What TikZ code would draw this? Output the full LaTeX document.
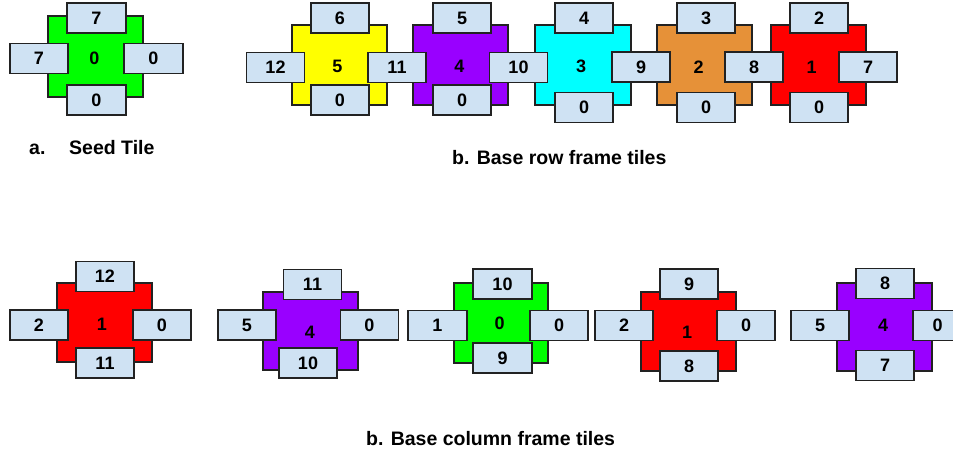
\documentclass[tikz,border=0pt]{standalone}
\usepackage{fontspec}
\setmainfont{Liberation Sans}
\definecolor{linec}{HTML}{222222}
\definecolor{portc}{HTML}{CFE2F3}
\definecolor{tgreen}{HTML}{00FF00}
\definecolor{tyellow}{HTML}{FFFF00}
\definecolor{tpurple}{HTML}{9900FF}
\definecolor{tcyan}{HTML}{00FFFF}
\definecolor{torange}{HTML}{E69138}
\definecolor{tred}{HTML}{FF0000}
\tikzset{
  sq/.style={draw=linec, line width=1.6pt, inner sep=0pt},
  port/.style={draw=linec, line width=1.6pt, fill=portc, minimum width=58pt, minimum height=30pt, inner sep=0pt, font=\bfseries\fontsize{18}{18}\selectfont},
  num/.style={inner sep=0pt, font=\bfseries\fontsize{18}{18}\selectfont},
  caption/.style={inner sep=0pt, anchor=base west, font=\bfseries\fontsize{19.5}{19.5}\selectfont}
}
\begin{document}
\begin{tikzpicture}[x=1pt, y=-1pt]
\useasboundingbox (0,0) rectangle (953,452);
\clip (0,0) rectangle (953,452);
\fill[white] (0,0) rectangle (953,452);

% ---------- seed tile ----------
\node[sq, fill=tgreen, minimum width=95pt, minimum height=81pt] (s0) at (95.5,56.5) {};
\node[num] (s0c) at (94.5,58.5) {0};
\node[port, minimum width=59pt] (s0t) at (96.5,18) {7};
\node[port] (s0l) at (39,58.5) {7};
\node[port, minimum width=59pt] (s0r) at (153.5,58.5) {0};
\node[port, minimum width=59pt] (s0b) at (96.5,100) {0};

\node[caption] (capa1) at (29,154) {a.};
\node[caption] (capa2) at (69,154) {Seed Tile};

% ---------- base row ----------
\node[sq, fill=tyellow, minimum width=95pt, minimum height=80pt] (r5) at (339.5,65) {};
\node[sq, fill=tpurple, minimum width=95pt, minimum height=80pt] (r4) at (460.5,65) {};
\node[sq, fill=tcyan, minimum width=96pt, minimum height=80pt] (r3) at (583,65) {};
\node[sq, fill=torange, minimum width=95pt, minimum height=80pt] (r2) at (704.5,65) {};
\node[sq, fill=tred, minimum width=95pt, minimum height=80pt] (r1) at (818.5,65) {};

\node[num] (r5c) at (337.5,66.5) {5};
\node[num] (r4c) at (459.5,66.5) {4};
\node[num] (r3c) at (581,66.5) {3};
\node[num] (r2c) at (698.5,67.5) {2};
\node[num] (r1c) at (811.5,67) {1};

\node[port] (r5t) at (340,18) {6};
\node[port] (r5l) at (275.5,67.5) {12};
\node[port] (r5b) at (340,100) {0};
\node[port] (r54) at (397,67.5) {11};

\node[port] (r4t) at (462,18) {5};
\node[port] (r4b) at (462,100) {0};
\node[port] (r43) at (518.5,67.5) {10};

\node[port] (r3t) at (584,18) {4};
\node[port] (r3b) at (584,107.5) {0};
\node[port] (r32) at (641,67) {9};

\node[port] (r2t) at (706,18) {3};
\node[port] (r2b) at (706,107.5) {0};
\node[port] (r21) at (754,67) {8};

\node[port] (r1t) at (819,18) {2};
\node[port] (r1b) at (819,107.5) {0};
\node[port] (r1r) at (868,67) {7};

\node[caption] (capb) at (452,164) {b. Base row frame tiles};

% ---------- base column ----------
\node[sq, fill=tred, minimum width=95pt, minimum height=79pt] (cA) at (104.5,322.5) {};
\node[sq, fill=tpurple, minimum width=95pt, minimum height=78pt] (cB) at (310.5,331) {};
\node[sq, fill=tgreen, minimum width=94pt, minimum height=80pt] (cC) at (501,323) {};
\node[sq, fill=tred, minimum width=95pt, minimum height=79pt] (cD) at (688.5,331.5) {};
\node[sq, fill=tpurple, minimum width=95pt, minimum height=88pt] (cE) at (884.5,327) {};

\node[num] (cAc) at (102,324.5) {1};
\node[num] (cBc) at (310,332.5) {4};
\node[num] (cCc) at (499.5,323.5) {0};
\node[num] (cDc) at (687,332) {1};
\node[num] (cEc) at (883,325) {4};

\node[port] (cAt) at (105,276.5) {12};
\node[port] (cAl) at (39,325) {2};
\node[port] (cAr) at (162,325) {0};
\node[port] (cAb) at (105,363) {11};

\node[port] (cBt) at (312.5,284.5) {11};
\node[port] (cBl) at (247,325) {5};
\node[port] (cBr) at (369.5,325) {0};
\node[port] (cBb) at (308,363) {10};

\node[port, minimum width=59pt] (cCt) at (502.5,284) {10};
\node[port, minimum width=59pt] (cCl) at (437.5,325.5) {1};
\node[port] (cCr) at (559,325.5) {0};
\node[port, minimum width=59pt] (cCb) at (502.5,358) {9};

\node[port] (cDt) at (689,284) {9};
\node[port] (cDl) at (624,325.5) {2};
\node[port] (cDr) at (746,325.5) {0};
\node[port] (cDb) at (689,366) {8};

\node[port] (cEt) at (885,283.5) {8};
\node[port] (cEl) at (820,325.5) {5};
\node[port] (cEr) at (942,325.5) {\hspace*{-9pt}0};
\node[port] (cEb) at (885,365.5) {7};

\node[caption] (capc) at (366,445) {b. Base column frame tiles};
\end{tikzpicture}
\end{document}
